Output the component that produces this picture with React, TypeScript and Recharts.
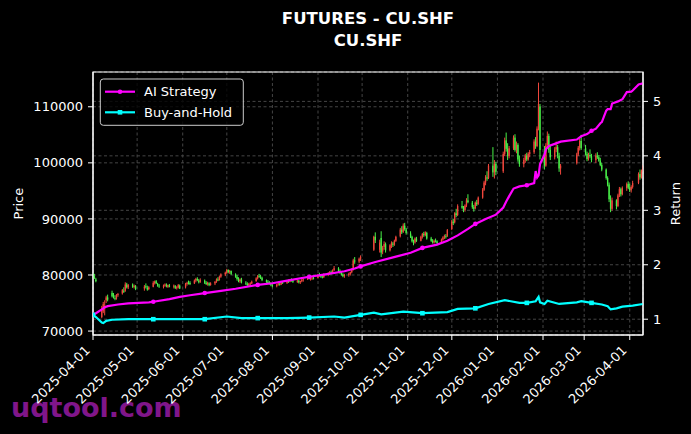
import React from 'react';
import { ComposedChart, Bar, Line, XAxis, YAxis, CartesianGrid, ReferenceArea } from 'recharts';

// ---------- data ----------
const START_DATE = '2025-04-01';
const END_DATE = '2026-04-10';
const HOLIDAYS = [
  '2025-04-04', '2025-05-01', '2025-05-02', '2025-05-05', '2025-06-02',
  '2025-10-01', '2025-10-02', '2025-10-03', '2025-10-06', '2025-10-07', '2025-10-08',
  '2026-01-01', '2026-01-02', '2026-02-16', '2026-02-17', '2026-02-18', '2026-02-19',
  '2026-02-20', '2026-02-23', '2026-04-06',
];

// [open, high, low, close]
const APR_2025 = [
  [80200, 80400, 79200, 79500], [79800, 80200, 79300, 79400], [79200, 79500, 78700, 78900],
  [72500, 74500, 72300, 73800], [73500, 75200, 73200, 74800], [74000, 75500, 72800, 74500],
  [75500, 76300, 75000, 76000], [76000, 76500, 75300, 75600], [76800, 77200, 76000, 76200],
  [76300, 76800, 75800, 76000], [75900, 76400, 75500, 75800], [75800, 76600, 75600, 76400],
  [76400, 76800, 76100, 76600], [76700, 77500, 76500, 77300], [77200, 77800, 76800, 77000],
  [77200, 78700, 77000, 78300], [78300, 78600, 77600, 77800], [77800, 78400, 77500, 78200],
  [78300, 78500, 77700, 77900], [77900, 78300, 77600, 78000], [78000, 78200, 77300, 77500],
];
const MAY_2025 = [
  [77600, 78200, 77200, 77900], [78000, 78500, 77600, 77800], [77700, 78100, 77200, 77400],
  [77500, 78000, 77300, 77800], [77900, 78900, 77800, 78600], [78600, 79000, 78300, 78800],
  [78900, 79100, 78400, 78500], [78400, 78600, 77900, 78100], [78100, 78400, 77700, 78000],
  [77900, 78300, 77600, 78100], [78100, 78500, 77900, 78300], [78200, 78500, 77800, 78000],
  [77900, 78300, 77700, 78200], [78100, 78400, 77800, 77900], [77900, 78300, 77600, 78100],
  [78000, 78200, 77500, 77700], [77700, 78000, 77400, 77800], [77800, 78400, 77600, 78200],
  [78100, 78300, 77500, 77600],
];
const JUN_2025 = [
  [77800, 78600, 77600, 78400], [78400, 78800, 78100, 78600], [78700, 79000, 78300, 78500],
  [78600, 78900, 78200, 78400], [78500, 79200, 78400, 79000], [79000, 79500, 78700, 79300],
  [79300, 79600, 78900, 79100], [79000, 79300, 78500, 78700], [78800, 79400, 78600, 79100],
  [79000, 79200, 78400, 78600], [78600, 78900, 78200, 78400], [78400, 78800, 78100, 78600],
  [78500, 78700, 78000, 78200], [78200, 78700, 78100, 78500], [78500, 78900, 78200, 78800],
  [78800, 79400, 78600, 79200], [79200, 79600, 78900, 79000], [79100, 79900, 79000, 79700],
  [79700, 80300, 79500, 80100], [80100, 80600, 79800, 80400],
];
const JUL_2025 = [
  [80400, 81100, 80200, 80900], [80900, 81000, 80300, 80500], [80500, 80900, 80200, 80700],
  [80700, 80800, 80000, 80200], [80100, 80300, 79500, 79700], [79700, 80000, 79000, 79300],
  [79200, 79600, 78700, 78900], [78900, 79400, 78600, 79200], [79200, 79500, 78500, 78700],
  [78600, 78900, 78200, 78500], [78400, 78700, 78000, 78200], [78200, 78600, 77900, 78400],
  [78300, 78700, 78100, 78500], [78500, 79000, 78400, 78800], [78900, 79600, 78800, 79400],
  [79400, 80000, 79200, 79800], [79800, 80200, 79500, 79700], [79700, 80000, 79300, 79500],
  [79500, 79700, 78900, 79100], [79000, 79200, 78600, 78800], [78800, 79100, 78400, 78600],
  [78600, 78900, 78300, 78500], [78500, 78700, 78000, 78200],
];
const AUG_2025 = [
  [78200, 78500, 77800, 78000], [78000, 78400, 77800, 78300], [78300, 78600, 78100, 78500],
  [78400, 78700, 78100, 78300], [78300, 78800, 78200, 78700], [78700, 78900, 78400, 78600],
  [78600, 79000, 78400, 78900], [78900, 79200, 78600, 78800], [78800, 79300, 78700, 79200],
  [79200, 79400, 78800, 79000], [79000, 79200, 78600, 78800], [78800, 79200, 78600, 79000],
  [79000, 79100, 78500, 78700], [78700, 79000, 78400, 78900], [78900, 79300, 78700, 79100],
  [79100, 79400, 78800, 79200], [79300, 79800, 79100, 79600], [79600, 79800, 79200, 79300],
  [79300, 79600, 79000, 79400], [79400, 79700, 79100, 79500], [79500, 79800, 79200, 79400],
];
const SEP_2025 = [
  [79500, 80200, 79400, 80000], [80000, 80400, 79700, 79900], [79900, 80100, 79500, 79700],
  [79700, 80000, 79400, 79600], [79600, 80300, 79500, 80100], [80100, 80500, 79800, 80300],
  [80300, 80700, 80000, 80500], [80500, 80800, 80100, 80300], [80300, 81000, 80200, 80800],
  [80900, 81600, 80700, 81200], [81200, 81400, 80500, 80700], [80700, 81000, 80200, 80400],
  [80400, 80600, 79900, 80100], [80100, 80300, 79600, 79800], [79800, 80200, 79500, 80000],
  [80000, 80400, 79700, 80200], [80200, 80600, 79900, 80500], [80500, 81200, 80300, 80900],
  [80900, 82900, 80800, 82600], [82600, 83200, 82000, 82400], [82400, 83100, 82100, 82900],
  [82900, 83500, 82500, 83200],
];
const OCT_2025 = [
  [84500, 87000, 84300, 86800], [86800, 87600, 85700, 86200], [84500, 86300, 84000, 85800],
  [86600, 87800, 83200, 84000], [84200, 85200, 83700, 84900], [85000, 86000, 84500, 85500],
  [85500, 85800, 84000, 84400], [84400, 85500, 84200, 85300], [85300, 86000, 84800, 85700],
  [85600, 85900, 85000, 85400], [85400, 86300, 85200, 86100], [86100, 87000, 85900, 86800],
  [86900, 88400, 86700, 88100], [88100, 88700, 87300, 87600], [87700, 89200, 87500, 88800],
  [88800, 89300, 87900, 88200], [88100, 88400, 87200, 87500],
];
const NOV_2025 = [
  [87400, 87800, 86600, 86800], [86800, 87000, 85800, 86000], [85900, 86300, 85300, 85700],
  [85800, 86700, 85600, 86500], [86500, 86800, 85900, 86100], [86100, 87000, 86000, 86800],
  [86800, 87500, 86500, 87300], [87300, 87700, 86800, 87100], [87100, 87800, 86900, 87600],
  [87500, 87700, 86300, 86500], [86500, 86800, 85900, 86100], [86100, 86400, 85600, 85800],
  [85800, 86300, 85600, 86100], [86100, 86500, 85800, 86000], [86000, 86200, 85500, 85700],
  [85800, 86500, 85700, 86300], [86300, 86900, 86100, 86700], [86700, 87200, 86400, 86900],
  [86900, 87300, 86500, 86800], [86900, 88200, 86800, 88000],
];
const DEC_2025 = [
  [88200, 89800, 88000, 89500], [89500, 90000, 88900, 89300], [89400, 91200, 89200, 91000],
  [91000, 91800, 90300, 90700], [90700, 92600, 90500, 92300], [92300, 93200, 91800, 92000],
  [92000, 92300, 91200, 91500], [91600, 92600, 91300, 92400], [92400, 93700, 92100, 93300],
  [93300, 94400, 92800, 93000], [92900, 93200, 91800, 92100], [92100, 92500, 91300, 91800],
  [91900, 93100, 91700, 92900], [92900, 93400, 92300, 92600], [92700, 94000, 92500, 93800],
  [93800, 95500, 93600, 95200], [95200, 96800, 95000, 96500], [96500, 97800, 96000, 97400],
  [97400, 98500, 96800, 97200], [97300, 99800, 97100, 99500], [99500, 102800, 97500, 98300],
  [98300, 100500, 97200, 99800], [99800, 100200, 97800, 98400],
];
const JAN_2026 = [
  [98500, 102000, 98200, 101600], [101600, 104500, 101200, 104000], [104000, 105400, 102000, 102500],
  [102500, 103500, 100500, 101200], [101200, 103000, 100800, 102600], [102600, 104900, 102300, 104500],
  [104500, 105100, 102000, 102300], [102400, 103800, 101700, 103200], [103200, 103500, 100200, 100600],
  [100600, 101300, 99300, 99800], [99800, 100900, 99200, 100500], [100500, 101600, 100000, 101300],
  [101300, 101800, 100300, 100600], [100600, 101900, 100400, 101600], [101600, 102300, 101000, 101900],
  [101900, 104200, 101600, 103800], [103800, 104600, 102500, 103000], [103000, 106500, 102800, 106100],
  [106300, 114300, 105800, 110500], [110000, 110500, 100600, 102300],
];
const FEB_2026 = [
  [102000, 103000, 98800, 99500], [99500, 103500, 99300, 103100], [103200, 105600, 102800, 104800],
  [104800, 105200, 101800, 102300], [102300, 103200, 100500, 101000], [101000, 102800, 100600, 102400],
  [102400, 103800, 101900, 102800], [102800, 103200, 100800, 101300], [101300, 101800, 98400, 99000],
  [99000, 99800, 97900, 99500], [100000, 101800, 99700, 101500], [101500, 103000, 101200, 102700],
  [102700, 104300, 102200, 103900], [103900, 105000, 102300, 102600],
];
const MAR_2026 = [
  [102600, 103200, 101300, 101600], [101600, 102000, 100300, 100700], [100700, 101800, 100400, 101400],
  [101400, 102400, 100900, 101200], [101200, 101600, 100100, 100500], [100500, 101700, 100000, 101300],
  [101300, 101900, 100700, 101000], [101000, 101400, 100200, 100400], [100400, 100900, 99400, 99600],
  [99600, 100000, 98500, 98800], [98800, 99000, 97000, 97300], [97300, 97600, 95800, 96100],
  [96100, 96500, 93000, 93500], [93500, 94200, 91200, 91800], [91800, 93800, 91500, 93300],
  [93300, 93500, 91700, 92300], [92300, 94500, 92100, 94200], [94200, 95700, 93900, 95300],
  [95300, 95600, 94000, 94400], [94400, 95800, 94200, 95500], [95500, 96500, 95000, 96200],
  [96200, 96700, 95300, 95600],
];
const APR_2026 = [
  [95600, 96300, 94800, 95100], [95100, 96000, 94700, 95700], [95700, 96800, 95400, 96400],
  [96400, 98300, 96200, 98000], [98000, 98800, 97000, 97400], [97400, 98800, 97200, 98500],
  [98500, 99600, 98300, 99300],
];
const MONTH_CANDLES = [
  APR_2025, MAY_2025, JUN_2025, JUL_2025, AUG_2025, SEP_2025, OCT_2025,
  NOV_2025, DEC_2025, JAN_2026, FEB_2026, MAR_2026, APR_2026,
];

const AI_DATES = [
  '2025-04-01', '2025-04-03', '2025-04-07', '2025-04-09', '2025-04-11', '2025-04-18', '2025-04-25',
  '2025-05-09', '2025-05-12', '2025-05-23', '2025-05-30', '2025-06-06', '2025-06-16', '2025-06-27',
  '2025-07-07', '2025-07-22', '2025-08-01', '2025-08-11', '2025-08-26', '2025-09-05', '2025-09-19',
  '2025-09-26', '2025-09-30', '2025-10-10', '2025-10-24', '2025-11-03', '2025-11-11', '2025-11-21',
  '2025-11-28', '2025-12-05', '2025-12-12', '2025-12-17', '2025-12-24', '2025-12-31', '2026-01-05',
  '2026-01-07', '2026-01-09', '2026-01-12', '2026-01-16', '2026-01-21', '2026-01-26', '2026-01-27',
  '2026-01-28', '2026-01-29', '2026-01-30', '2026-02-02', '2026-02-03', '2026-02-05', '2026-02-09',
  '2026-02-13', '2026-02-24', '2026-02-27', '2026-03-03', '2026-03-06', '2026-03-09', '2026-03-12',
  '2026-03-13', '2026-03-16', '2026-03-17', '2026-03-19', '2026-03-20', '2026-03-24', '2026-03-27',
  '2026-03-30', '2026-04-02', '2026-04-03', '2026-04-07', '2026-04-10',
];
const AI_VALUES = [
  1.08, 1.11, 1.18, 1.22, 1.24, 1.27, 1.29,
  1.31, 1.32, 1.37, 1.41, 1.44, 1.48, 1.52,
  1.56, 1.63, 1.66, 1.71, 1.78, 1.82, 1.88,
  1.93, 1.97, 2.05, 2.15, 2.22, 2.31, 2.37,
  2.44, 2.54, 2.66, 2.75, 2.84, 2.92, 3.05,
  3.16, 3.26, 3.40, 3.44, 3.46, 3.50, 3.72,
  3.60, 3.64, 3.85, 4.02, 4.12, 4.18, 4.22,
  4.26, 4.30, 4.36, 4.40, 4.46, 4.50, 4.60,
  4.62, 4.83, 4.86, 4.86, 4.96, 5.00, 5.04,
  5.17, 5.18, 5.20, 5.31, 5.33,
];
const BH_DATES = [
  '2025-04-01', '2025-04-03', '2025-04-07', '2025-04-08', '2025-04-10', '2025-04-14', '2025-04-25',
  '2025-05-12', '2025-06-03', '2025-06-16', '2025-07-01', '2025-07-11', '2025-07-22', '2025-08-11',
  '2025-08-26', '2025-09-12', '2025-09-19', '2025-09-30', '2025-10-09', '2025-10-14', '2025-10-29',
  '2025-11-11', '2025-11-28', '2025-12-05', '2025-12-17', '2025-12-26', '2026-01-06', '2026-01-16',
  '2026-01-21', '2026-01-27', '2026-01-29', '2026-01-30', '2026-02-02', '2026-02-04', '2026-02-12',
  '2026-02-24', '2026-02-27', '2026-03-06', '2026-03-13', '2026-03-17', '2026-03-19', '2026-03-23',
  '2026-03-27', '2026-04-03', '2026-04-10',
];
const BH_VALUES = [
  1.08, 1.04, 0.94, 0.93, 0.97, 0.99, 1.00,
  1.00, 1.00, 1.00, 1.05, 1.02, 1.02, 1.02,
  1.03, 1.05, 1.03, 1.08, 1.12, 1.09, 1.14,
  1.11, 1.13, 1.19, 1.20, 1.28, 1.35, 1.30,
  1.30, 1.33, 1.41, 1.31, 1.28, 1.34, 1.28,
  1.31, 1.33, 1.30, 1.27, 1.24, 1.18, 1.20,
  1.23, 1.25, 1.28,
];
const MARKER_DATES = [
  '2025-04-01', '2025-05-12', '2025-06-16', '2025-07-22', '2025-08-26', '2025-09-30',
  '2025-11-11', '2025-12-17', '2026-01-21', '2026-03-06',
];
const X_TICK_LABELS = [
  '2025-04-01', '2025-05-01', '2025-06-01', '2025-07-01', '2025-08-01', '2025-09-01', '2025-10-01',
  '2025-11-01', '2025-12-01', '2026-01-01', '2026-02-01', '2026-03-01', '2026-04-01',
];
const PRICE_TICKS = [70000, 80000, 90000, 100000, 110000];
const RETURN_TICKS = [1, 2, 3, 4, 5];
const PRICE_DOMAIN = [69300, 116200];
const RETURN_DOMAIN = [0.71, 5.54];

// ---------- helpers ----------
const DAY = 86400000;
const parse = (s: string) => {
  const [y, m, d] = s.split('-').map(Number);
  return Date.UTC(y, m - 1, d);
};
const T0 = parse(START_DATE);
const toDay = (s: string) => Math.round((parse(s) - T0) / DAY);
const iso = (ms: number) => new Date(ms).toISOString().slice(0, 10);

const tradingDates = (() => {
  const hol = new Set(HOLIDAYS);
  const out: string[] = [];
  for (let t = T0; t <= parse(END_DATE); t += DAY) {
    const wd = new Date(t).getUTCDay();
    const s = iso(t);
    if (wd !== 0 && wd !== 6 && !hol.has(s)) out.push(s);
  }
  return out;
})();

const candles = MONTH_CANDLES.flat();
const aiMap = new Map(AI_DATES.map((d, i) => [d, AI_VALUES[i]]));
const bhMap = new Map(BH_DATES.map((d, i) => [d, BH_VALUES[i]]));
const markerSet = new Set(MARKER_DATES);

const rows = tradingDates.map((date, i) => {
  const c = candles[i] || candles[candles.length - 1];
  const [open, high, low, close] = c;
  return {
    date,
    t: toDay(date),
    open, high, low, close,
    range: [low, high],
    ai: aiMap.has(date) ? aiMap.get(date) : null,
    bh: bhMap.has(date) ? bhMap.get(date) : null,
  };
});

const X_TICKS = X_TICK_LABELS.map(toDay);
const labelByDay = new Map(X_TICK_LABELS.map((s) => [toDay(s), s]));
const X_DOMAIN = [0, toDay(END_DATE)];

const UP = '#f0463c';
const DOWN = '#48f048';
const FONT = 'DejaVu Sans, sans-serif';

const Candle = (props: any) => {
  const { x, y, width, height, payload } = props;
  if (!payload || x == null || y == null) return <g />;
  const { open, high, low, close } = payload;
  const top = Math.min(y, y + height);
  const h = Math.abs(height);
  const span = high - low || 1;
  const yAt = (v: number) => top + ((high - v) / span) * h;
  const color = close >= open ? UP : DOWN;
  const cx = x + width / 2;
  const b1 = yAt(Math.max(open, close));
  const b2 = yAt(Math.min(open, close));
  return (
    <g>
      <line x1={cx} x2={cx} y1={top} y2={top + h} stroke={color} strokeWidth={1} />
      <rect x={x} y={b1} width={width} height={Math.max(b2 - b1, 0.8)} fill={color} />
    </g>
  );
};

const DateTick = (props: any) => {
  const { x, payload } = props;
  const label = labelByDay.get(payload.value) || '';
  const ax = x - 2.2;
  const ay = 351.2;
  return (
    <text x={ax} y={ay} transform={`rotate(-45 ${ax} ${ay})`} textAnchor="end" fill="#ffffff" fontSize={13} fontFamily={FONT}>
      {label}
    </text>
  );
};

const makeDot = (color: string, shape: 'circle' | 'square') => (props: any) => {
  const { cx, cy, payload, index } = props;
  const k = `${shape}-${index}`;
  if (cx == null || cy == null || !payload || !markerSet.has(payload.date)) return <g key={k} />;
  if (shape === 'circle') return <circle key={k} cx={cx} cy={cy} r={2.3} fill={color} />;
  return <rect key={k} x={cx - 2.3} y={cy - 2.3} width={4.6} height={4.6} fill={color} />;
};

const aiDot = makeDot('#ff00ff', 'circle');
const bhDot = makeDot('#00ffff', 'square');

export default function App() {
  return (
    <div style={{ position: 'absolute', left: 0, top: 0, width: 691, height: 434, background: '#000', overflow: 'hidden' }}>
      <svg width={691} height={434} style={{ position: 'absolute', left: 0, top: 0 }}>
        <text x={11} y={417} fontSize={27} fontWeight="bold" fontFamily={FONT} fill="#80168a">uqtool.com</text>
      </svg>
      <div style={{ position: 'absolute', left: 0, top: 0 }}>
        <ComposedChart width={691} height={434} data={rows} margin={{ top: 72, right: 0, bottom: 0, left: 0 }}>
          <CartesianGrid yAxisId="price" stroke="#454545" strokeDasharray="3 2.5" />
          <CartesianGrid yAxisId="ret" stroke="#454545" strokeDasharray="3 2.5" vertical={false} />
          <XAxis
            dataKey="t"
            type="number"
            domain={X_DOMAIN}
            ticks={X_TICKS}
            allowDataOverflow
            height={99}
            tick={<DateTick />}
            tickSize={5}
            tickLine={{ stroke: '#fff' }}
            axisLine={{ stroke: '#fff' }}
            interval={0}
          />
          <YAxis
            yAxisId="price"
            orientation="left"
            width={93}
            domain={PRICE_DOMAIN}
            ticks={PRICE_TICKS}
            allowDataOverflow
            tickSize={5}
            tickMargin={5}
            tick={{ fill: '#fff', fontSize: 13, fontFamily: FONT }}
            tickLine={{ stroke: '#fff' }}
            axisLine={{ stroke: '#fff' }}
          />
          <YAxis
            yAxisId="ret"
            orientation="right"
            width={48}
            domain={RETURN_DOMAIN}
            ticks={RETURN_TICKS}
            allowDataOverflow
            tickSize={5}
            tickMargin={5}
            tick={{ fill: '#fff', fontSize: 13, fontFamily: FONT }}
            tickLine={{ stroke: '#fff' }}
            axisLine={{ stroke: '#fff' }}
          />
          <Bar yAxisId="price" dataKey="range" barSize={2} shape={<Candle />} isAnimationActive={false} />
          <Line
            yAxisId="ret"
            dataKey="ai"
            type="linear"
            stroke="#ff00ff"
            strokeWidth={2.2}
            connectNulls
            dot={aiDot}
            activeDot={false}
            isAnimationActive={false}
          />
          <Line
            yAxisId="ret"
            dataKey="bh"
            type="linear"
            stroke="#00ffff"
            strokeWidth={2.2}
            connectNulls
            dot={bhDot}
            activeDot={false}
            isAnimationActive={false}
          />
          <ReferenceArea
            yAxisId="price"
            x1={X_DOMAIN[0]}
            x2={X_DOMAIN[1]}
            y1={PRICE_DOMAIN[0]}
            y2={PRICE_DOMAIN[1]}
            fill="none"
            stroke="#ffffff"
            strokeWidth={1.2}
            ifOverflow="visible"
          />
        </ComposedChart>
      </div>
      <svg width={691} height={434} style={{ position: 'absolute', left: 0, top: 0, pointerEvents: 'none' }}>
        <text x={368} y={24} textAnchor="middle" fontSize={16.5} fontWeight="bold" fontFamily={FONT} fill="#fff">FUTURES - CU.SHF</text>
        <text x={368} y={46} textAnchor="middle" fontSize={16.5} fontWeight="bold" fontFamily={FONT} fill="#fff">CU.SHF</text>
        <text x={23} y={203.6} transform="rotate(-90 23 203.6)" textAnchor="middle" fontSize={13} fontFamily={FONT} fill="#fff">Price</text>
        <text x={680} y={203.6} transform="rotate(-90 680 203.6)" textAnchor="middle" fontSize={13} fontFamily={FONT} fill="#fff">Return</text>
        <rect x={100.3} y={79} width={143} height={46.3} rx={3} fill="#000" fillOpacity={0.8} stroke="#cccccc" strokeWidth={1} />
        <line x1={105} x2={135} y1={91.7} y2={91.7} stroke="#ff00ff" strokeWidth={2.2} />
        <circle cx={120} cy={91.7} r={2.3} fill="#ff00ff" />
        <text x={144} y={96.3} fontSize={13} fontFamily={FONT} fill="#fff">AI Strategy</text>
        <line x1={105} x2={135} y1={112.3} y2={112.3} stroke="#00ffff" strokeWidth={2.2} />
        <rect x={117.7} y={110} width={4.6} height={4.6} fill="#00ffff" />
        <text x={144} y={116.9} fontSize={13} fontFamily={FONT} fill="#fff">Buy-and-Hold</text>
      </svg>
    </div>
  );
}
